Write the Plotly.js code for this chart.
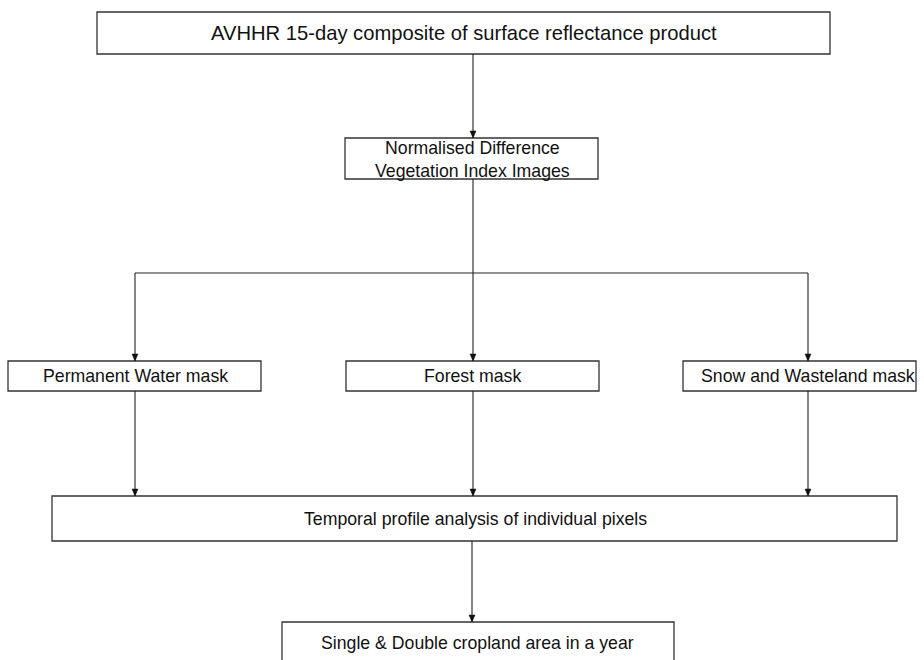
<!DOCTYPE html>
<html>
<head>
<meta charset="utf-8">
<script src="https://cdn.plot.ly/plotly-3.0.1.min.js"></script>
<style>html,body{margin:0;padding:0;background:#fff}</style>
</head>
<body>
<div id="chart" style="width:924px;height:660px"></div>
<script>
// Flowchart content
const boxLabels = [
  "AVHHR 15-day composite of surface reflectance product",
  "Normalised Difference<br>Vegetation Index Images",
  "Permanent Water mask",
  "Forest mask",
  "Snow and Wasteland mask",
  "Temporal profile analysis of individual pixels",
  "Single & Double cropland area in a year"
];
// connections: [from box index, to box index]
const links = [[0,1],[1,2],[1,3],[1,4],[2,5],[3,5],[4,5],[5,6]];

// layout geometry (pixels)
const boxX0 = [97, 345, 8, 346, 683, 52, 282];
const boxX1 = [830, 598, 261, 599, 916, 897, 674];
const boxY0 = [12, 138, 361, 361, 361, 496, 622];
const boxY1 = [54, 179, 391, 391, 391, 541, 672];
const textY = [33, 159.5, 376, 376, 376, 519, 643];
const textX = [464, 472, 135, 472, 808, 475, 477.5];
const fontSz = [20.2, 17.7, 17.7, 17.7, 17.7, 17.7, 17.7];
const portX = [473, 473, 135, 473, 808, 473, 472];
const splitY = 273;

const shapes = [];
const annotations = [];
const lineCol = '#222';
for (let i = 0; i < boxLabels.length; i++) {
  shapes.push({type:'rect', xref:'x', yref:'y', x0:boxX0[i], x1:boxX1[i], y0:boxY0[i], y1:boxY1[i],
    line:{color:'#333', width:1.3}, fillcolor:'rgba(0,0,0,0)'});
  annotations.push({x:textX[i], y:textY[i], xref:'x', yref:'y', text:boxLabels[i], showarrow:false,
    font:{family:'Liberation Sans, Arial, sans-serif', size:fontSz[i], color:'#111'}, align:'center'});
}
function seg(x0,y0,x1,y1){shapes.push({type:'line',xref:'x',yref:'y',x0,y0,x1,y1,line:{color:lineCol,width:1.1}});}
function head(x,y){shapes.push({type:'path',xref:'x',yref:'y',path:`M ${x-3} ${y-7} L ${x+3} ${y-7} L ${x} ${y} Z`,fillcolor:'#111',line:{color:'#111',width:0.5}});}

links.forEach(([a,b]) => {
  if (a === 1) {
    seg(portX[b], splitY, portX[b], boxY0[b]);
    head(portX[b], boxY0[b]);
  } else {
    const x = (b === 5) ? portX[a] : portX[b];
    seg(x, boxY1[a], x, boxY0[b]);
    head(x, boxY0[b]);
  }
});
seg(portX[1], boxY1[1], portX[1], splitY);
seg(portX[2], splitY, portX[4], splitY);

Plotly.newPlot('chart', [], {
  width:924, height:660,
  margin:{l:0,r:0,t:0,b:0},
  paper_bgcolor:'#fff', plot_bgcolor:'#fff',
  xaxis:{range:[0,924], visible:false, fixedrange:true},
  yaxis:{range:[660,0], visible:false, fixedrange:true},
  shapes, annotations, showlegend:false
}, {displayModeBar:false, staticPlot:true});
</script>
</body>
</html>
